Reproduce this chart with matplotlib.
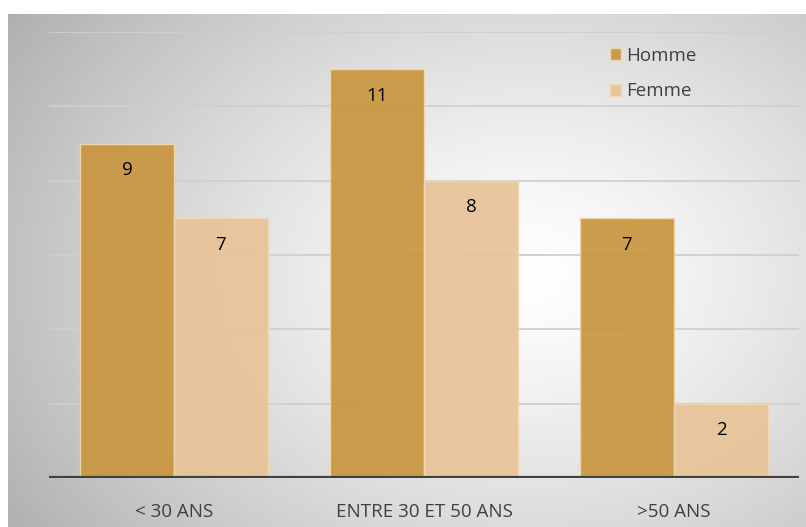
import matplotlib
matplotlib.use('Agg')
import matplotlib.pyplot as plt
import numpy as np

categories = ['< 30 ANS', 'ENTRE 30 ET 50 ANS', '>50 ANS']
homme = [9, 11, 7]
femme = [7, 8, 2]
series = ['Homme', 'Femme']
colors = ['#C9963F', '#E8C398']

plt.rcParams['font.family'] = ['Open Sans', 'DejaVu Sans']

W, H = 806, 527
fig = plt.figure(figsize=(W / 100, H / 100), dpi=100)

# radial gradient background box
bg = fig.add_axes([8 / W, 0, 1 - 8 / W, 1 - 14 / H])
bg.set_axis_off()
yy, xx = np.mgrid[0:513, 0:798]
cx, cy = 520, 260
r = np.sqrt(((xx - cx) / 560.0) ** 2 + ((yy - cy) / 420.0) ** 2)
v = np.clip(1.0 - 0.27 * r ** 1.3, 0, 1)
bg.imshow(np.dstack([v, v, v]), aspect='auto', interpolation='bilinear')

ax = fig.add_axes([49 / W, (H - 478) / H, 750 / W, (478 - 32) / H])
ax.patch.set_alpha(0)
x = np.arange(len(categories))
bw = 0.376
for yv in range(2, 13, 2):
    ax.axhline(yv, color='#cfcfcf', lw=1.3, zorder=1)
for i, (name, vals) in enumerate(zip(series, [homme, femme])):
    pos = x - bw / 2 + i * bw
    ax.bar(pos, vals, bw, color=colors[i], alpha=0.93, edgecolor='#f0d9b0',
           linewidth=1, label=name, zorder=2)
    for p, val in zip(pos, vals):
        ax.text(p, val - 0.72, str(val), ha='center', va='center',
                fontsize=13.5, color='black', zorder=4)
ax.axhline(0, color='#404040', lw=3, zorder=3)
ax.set_xlim(-0.5, 2.5)
ax.set_ylim(0, 12)
ax.set_yticks([])
ax.set_xticks(x)
ax.set_xticklabels(categories, fontsize=13.5, color='#404040')
ax.tick_params(axis='x', length=0, pad=18)
for s in ax.spines.values():
    s.set_visible(False)

leg = ax.legend(loc='upper left', bbox_to_anchor=(0.725, 1.005), frameon=False,
                fontsize=13.5, handlelength=0.6, handleheight=0.6,
                handletextpad=0.3, labelspacing=0.95, labelcolor='#404040')

fig.savefig('out.png', dpi=100)
